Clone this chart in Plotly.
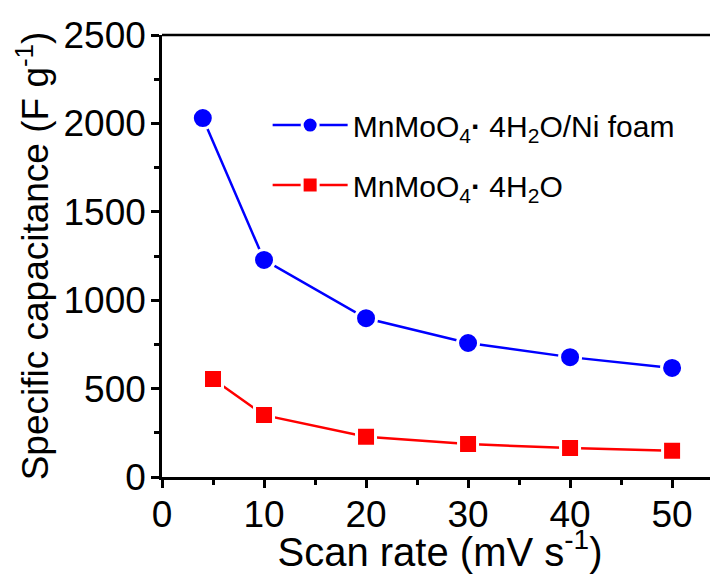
import plotly.graph_objects as go

scan_rate_foam = [4, 10, 20, 30, 40, 50]
cap_foam = [2030, 1228, 898, 758, 678, 617]
scan_rate_powder = [5, 10, 20, 30, 40, 50]
cap_powder = [554, 350, 228, 186, 164, 148]

name_foam = "MnMoO<sub>4</sub><b>·</b> 4H<sub>2</sub>O/Ni foam"
name_powder = "MnMoO<sub>4</sub><b>·</b> 4H<sub>2</sub>O"

FONT = "Liberation Sans, Arial, sans-serif"

fig = go.Figure()
fig.add_trace(go.Scatter(
    x=scan_rate_foam, y=cap_foam, name=name_foam, mode="lines+markers",
    line=dict(color="#0000ff", width=2.5),
    marker=dict(symbol="circle", size=21, color="#0000ff", line=dict(color="white", width=3)),
    legendgroup="a",
))
fig.add_trace(go.Scatter(
    x=scan_rate_powder, y=cap_powder, name=name_powder, mode="lines+markers",
    line=dict(color="#ff0000", width=2.5),
    marker=dict(symbol="square", size=19, color="#ff0000", line=dict(color="white", width=3)),
    legendgroup="b",
))

axis_common = dict(
    showline=True, linecolor="black", linewidth=2.5,
    ticks="outside", ticklen=8, tickwidth=2.5, tickcolor="black",
    showgrid=False, zeroline=False, automargin=False,
    tickfont=dict(family=FONT, size=37, color="black"),
)

fig.update_xaxes(
    range=[0, 54.5], tickvals=[0, 10, 20, 30, 40, 50], mirror=False,
    ticklabelstandoff=-5,
    minor=dict(ticks="outside", ticklen=5, tickwidth=2.5, tickcolor="black", dtick=5, tick0=0, showgrid=False),
    title=dict(text="Scan rate (mV s<sup>-1</sup>)", font=dict(family=FONT, size=40, color="black"), standoff=2),
    **axis_common,
)
fig.update_yaxes(
    range=[0, 2500], tickvals=[0, 500, 1000, 1500, 2000, 2500],
    ticklabelstandoff=-2,
    minor=dict(ticks="outside", ticklen=5, tickwidth=2.5, tickcolor="black", dtick=250, tick0=0, showgrid=False),
    title=dict(text="Specific capacitance (F g<sup>-1</sup>)", font=dict(family=FONT, size=37, color="black"), standoff=4),
    **axis_common,
)

# top border line
fig.add_shape(type="line", xref="paper", yref="paper", x0=0, x1=1, y0=1, y1=1,
              line=dict(color="black", width=2.5))

fig.update_layout(
    width=710, height=566,
    margin=dict(l=154, r=0, t=27, b=97),
    plot_bgcolor="white", paper_bgcolor="white",
    showlegend=True,
    legend=dict(
        x=0.19, y=0.855, xanchor="left", yanchor="top",
        font=dict(family=FONT, size=30, color="black"),
        bgcolor="rgba(0,0,0,0)", tracegroupgap=18, itemwidth=75,
        traceorder="grouped",
    ),
)

fig.write_html("out.html")
